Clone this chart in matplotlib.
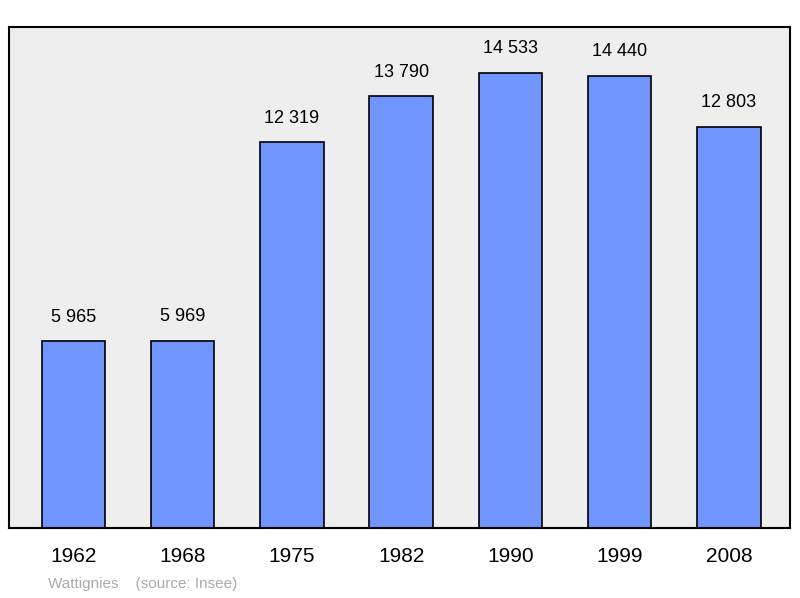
import matplotlib
matplotlib.use('Agg')
import matplotlib.pyplot as plt

years = ['1962', '1968', '1975', '1982', '1990', '1999', '2008']
population = [5965, 5969, 12319, 13790, 14533, 14440, 12803]
labels = ['5 965', '5 969', '12 319', '13 790', '14 533', '14 440', '12 803']

plt.rcParams['font.family'] = ['Liberation Sans', 'DejaVu Sans']

fig = plt.figure(figsize=(8, 5.98), dpi=100)
ax = fig.add_axes([9 / 800, 1 - 528 / 598, 781 / 800, 501 / 598])
ax.set_facecolor('#eeeeee')

x = range(len(years))
ax.bar(x, population, width=0.58, color='#7095ff', edgecolor='black', linewidth=1.2)
for xi, v, lab in zip(x, population, labels):
    ax.text(xi, v + 500, lab, ha='center', va='bottom', fontsize=13)

ax.set_xlim(-0.59, 6.56)
ax.set_ylim(0, 16000)
ax.set_yticks([])
ax.set_xticks(list(x))
ax.set_xticklabels(years, fontsize=15)
ax.tick_params(axis='x', length=0, pad=14)
for s in ax.spines.values():
    s.set_linewidth(1.5)

fig.text(48 / 800, 1 - 584 / 598, 'Wattignies    (source: Insee)', fontsize=11,
         color='#aaaaaa', va='center')

fig.savefig('out.png', dpi=100)
